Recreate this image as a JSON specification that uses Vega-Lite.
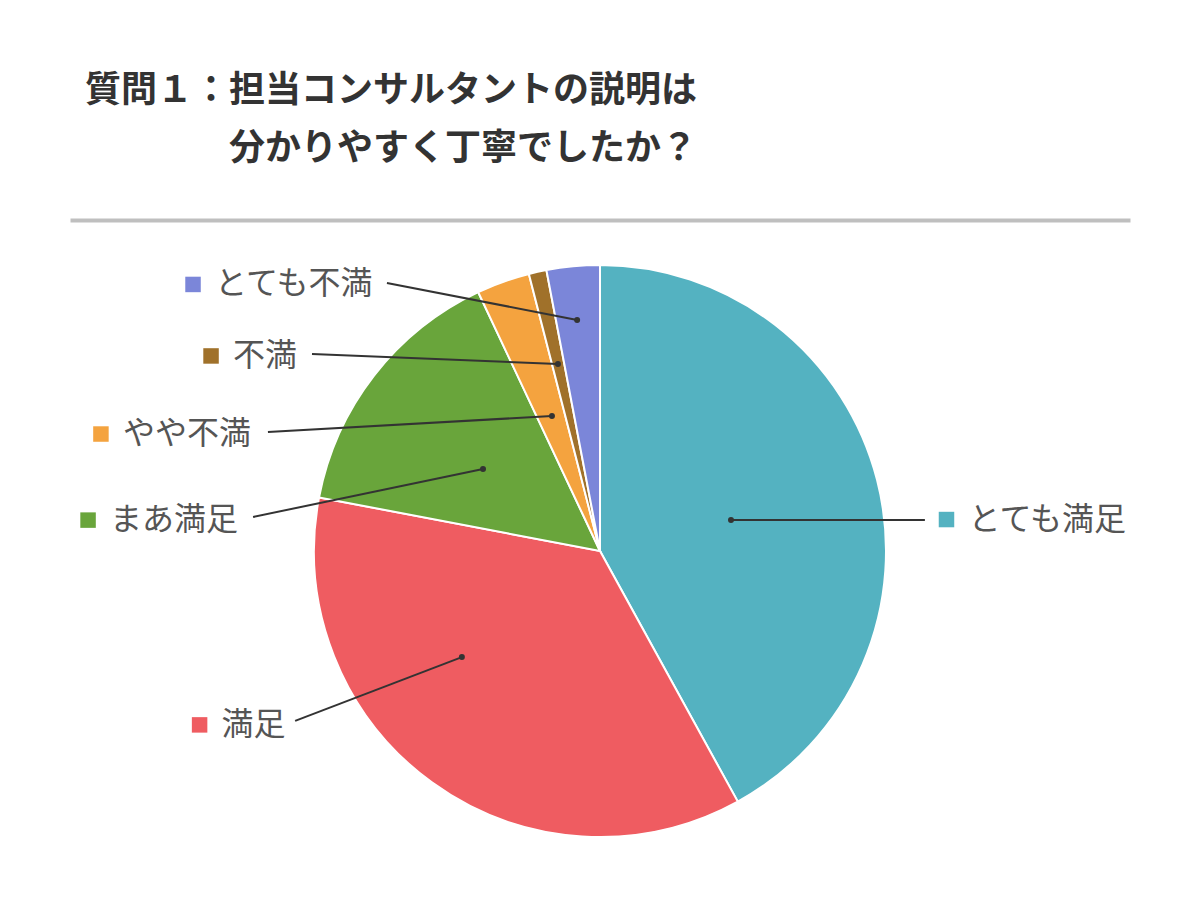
{
  "$schema": "https://vega.github.io/schema/vega-lite/v6.json",
  "width": 1060,
  "height": 572,
  "autosize": {"type": "none"},
  "padding": {"left": 70, "right": 70, "top": 265, "bottom": 63},
  "background": "white",
  "config": {"view": {"stroke": null}},
  "title": {
    "text": ["質問１：担当コンサルタントの説明は", "\u200b　　　　分かりやすく丁寧でしたか？"],
    "anchor": "start",
    "frame": "group",
    "dx": 15,
    "offset": 52,
    "font": "Noto Sans CJK JP",
    "fontSize": 36,
    "fontWeight": "bold",
    "color": "#333333",
    "lineHeight": 58
  },
  "data": {
    "values": [
      {"label": "とても満足", "value": 42, "order": 1, "dotX": 0.458, "dotY": 0.108, "endX": 1.136, "endY": 0.108, "keyX": 1.2115, "keyY": 0.11},
      {"label": "満足", "value": 36, "order": 2, "dotX": -0.483, "dotY": -0.371, "endX": -1.066, "endY": -0.594, "keyX": -1.4, "keyY": -0.608},
      {"label": "まあ満足", "value": 15, "order": 3, "dotX": -0.409, "dotY": 0.287, "endX": -1.213, "endY": 0.119, "keyX": -1.79, "keyY": 0.108},
      {"label": "やや不満", "value": 3, "order": 4, "dotX": -0.168, "dotY": 0.472, "endX": -1.161, "endY": 0.416, "keyX": -1.745, "keyY": 0.409},
      {"label": "不満", "value": 1, "order": 5, "dotX": -0.147, "dotY": 0.654, "endX": -1.007, "endY": 0.689, "keyX": -1.36, "keyY": 0.682},
      {"label": "とても不満", "value": 3, "order": 6, "dotX": -0.08, "dotY": 0.808, "endX": -0.745, "endY": 0.937, "keyX": -1.423, "keyY": 0.932}
    ]
  },
  "layer": [
    {
      "mark": {"type": "arc", "stroke": "white", "strokeWidth": 2},
      "encoding": {
        "theta": {"field": "value", "type": "quantitative", "stack": true},
        "order": {"field": "order", "type": "quantitative"},
        "color": {
          "field": "label",
          "type": "nominal",
          "scale": {
            "domain": ["とても満足", "満足", "まあ満足", "やや不満", "不満", "とても不満"],
            "range": ["#54B2C1", "#EF5C61", "#69A53B", "#F4A33F", "#A0712A", "#7B86D9"]
          },
          "legend": null
        }
      }
    },
    {
      "mark": {"type": "rule", "color": "#333333", "strokeWidth": 2},
      "encoding": {
        "x": {"field": "dotX", "type": "quantitative", "scale": {"domain": [-1.85315, 1.85315], "nice": false, "zero": false},
              "axis": {"orient": "top", "offset": 45, "domain": true, "domainColor": "#bfbfbf", "domainWidth": 4, "ticks": false, "labels": false, "grid": false, "title": null}},
        "y": {"field": "dotY", "type": "quantitative", "scale": {"domain": [-1, 1], "nice": false, "zero": false}, "axis": null},
        "x2": {"field": "endX"},
        "y2": {"field": "endY"}
      }
    },
    {
      "mark": {"type": "circle", "size": 36, "color": "#333333", "opacity": 1},
      "encoding": {
        "x": {"field": "dotX", "type": "quantitative", "scale": {"domain": [-1.85315, 1.85315], "nice": false, "zero": false},
              "axis": {"orient": "top", "offset": 45, "domain": true, "domainColor": "#bfbfbf", "domainWidth": 4, "ticks": false, "labels": false, "grid": false, "title": null}},
        "y": {"field": "dotY", "type": "quantitative", "scale": {"domain": [-1, 1], "nice": false, "zero": false}, "axis": null}
      }
    },
    {
      "mark": {"type": "square", "size": 240, "opacity": 1},
      "encoding": {
        "x": {"field": "keyX", "type": "quantitative", "scale": {"domain": [-1.85315, 1.85315], "nice": false, "zero": false},
              "axis": {"orient": "top", "offset": 45, "domain": true, "domainColor": "#bfbfbf", "domainWidth": 4, "ticks": false, "labels": false, "grid": false, "title": null}},
        "y": {"field": "keyY", "type": "quantitative", "scale": {"domain": [-1, 1], "nice": false, "zero": false}, "axis": null},
        "color": {"field": "label", "type": "nominal", "legend": null}
      }
    },
    {
      "mark": {"type": "text", "align": "left", "baseline": "middle", "dx": 22, "font": "Noto Sans CJK JP", "fontSize": 32, "color": "#555555"},
      "encoding": {
        "x": {"field": "keyX", "type": "quantitative", "scale": {"domain": [-1.85315, 1.85315], "nice": false, "zero": false},
              "axis": {"orient": "top", "offset": 45, "domain": true, "domainColor": "#bfbfbf", "domainWidth": 4, "ticks": false, "labels": false, "grid": false, "title": null}},
        "y": {"field": "keyY", "type": "quantitative", "scale": {"domain": [-1, 1], "nice": false, "zero": false}, "axis": null},
        "text": {"field": "label", "type": "nominal"}
      }
    }
  ]
}
